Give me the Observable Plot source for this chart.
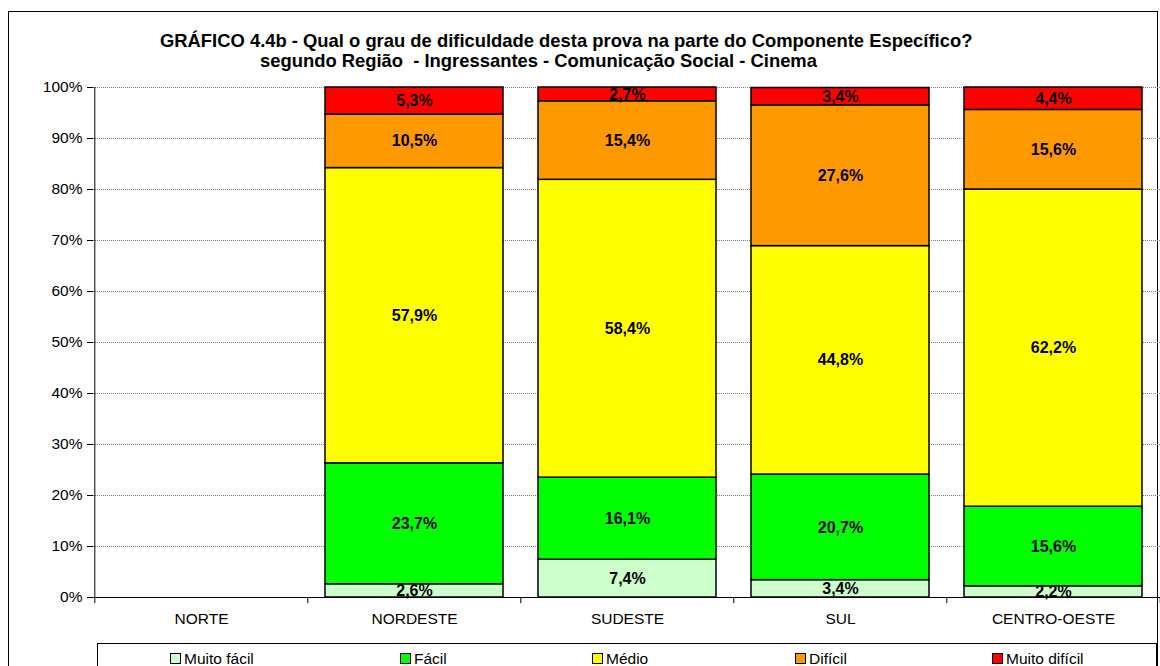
<!DOCTYPE html>
<html><head><meta charset="utf-8">
<script src="https://cdn.jsdelivr.net/npm/d3@7"></script>
<script src="https://cdn.jsdelivr.net/npm/@observablehq/plot@0.6"></script>
<style>
body{margin:0;background:#fff;font-family:"Liberation Sans",Arial,sans-serif;color:#000;}
#wrap{position:relative;width:1160px;height:666px;overflow:hidden;background:#fff;}
#frame{position:absolute;left:8px;top:11px;width:1148px;height:700px;border:1px solid #000;}
.title{position:absolute;font-weight:bold;font-size:18.4px;white-space:pre;line-height:20px;}
#chart{position:absolute;left:0;top:0;}
#legend{position:absolute;left:97px;top:643px;width:1058px;height:40px;border:1px solid #000;}
.item{position:absolute;top:7px;font-size:15.5px;line-height:16px;white-space:pre;}
.sw{display:inline-block;width:9px;height:9px;border:1px solid #000;margin-right:3px;vertical-align:0px;}
</style></head>
<body>
<div id="wrap">
  <div id="frame"></div>
  <div class="title" id="t1" style="left:160px;top:31px;"></div>
  <div class="title" id="t2" style="left:260px;top:51px;"></div>
  <div id="chart"></div>
  <div id="legend"></div>
</div>
<script>
const titleLine1 = "GRÁFICO 4.4b - Qual o grau de dificuldade desta prova na parte do Componente Específico?";
const titleLine2 = "segundo Região  - Ingressantes - Comunicação Social - Cinema";
const regions = ["NORTE", "NORDESTE", "SUDESTE", "SUL", "CENTRO-OESTE"];
const levels = ["Muito fácil", "Fácil", "Médio", "Difícil", "Muito difícil"];
const levelColors = ["#CCFFCC", "#00FF00", "#FFFF00", "#FF9900", "#FF0000"];
const muitoFacil   = [null, 2.6, 7.4, 3.4, 2.2];
const facil        = [null, 23.7, 16.1, 20.7, 15.6];
const medio        = [null, 57.9, 58.4, 44.8, 62.2];
const dificil      = [null, 10.5, 15.4, 27.6, 15.6];
const muitoDificil = [null, 5.3, 2.7, 3.4, 4.4];
const yTicks = [0, 10, 20, 30, 40, 50, 60, 70, 80, 90, 100];

document.getElementById("t1").textContent = titleLine1;
document.getElementById("t2").textContent = titleLine2;

const series = [muitoFacil, facil, medio, dificil, muitoDificil];
const rows = [];
regions.forEach((r, i) => {
  levels.forEach((l, j) => {
    const v = series[j][i];
    if (v != null) rows.push({region: r, level: l, value: v});
  });
});
const fmt = v => v.toFixed(1).replace(".", ",") + "%";

const W = 1160, H = 640, mL = 93, mR = 0, mT = 87, mB = 43;
const step = (W - mL - mR) / regions.length;
const font = '"Liberation Sans", Arial, sans-serif';

const chart = Plot.plot({
  width: W, height: H,
  marginLeft: mL, marginRight: mR, marginTop: mT, marginBottom: mB,
  style: {fontFamily: font, fontSize: "15.5px", color: "#000", background: "transparent", overflow: "visible"},
  x: {domain: regions, paddingInner: 0.166, paddingOuter: 0.083, label: null},
  y: {domain: [0, 100], label: null},
  color: {domain: levels, range: levelColors},
  marks: [
    Plot.gridY(yTicks, {stroke: "#808080", strokeOpacity: 1, strokeDasharray: "1,1"}),
    Plot.barY(rows, {x: "region", y: "value", fill: "level", stroke: "#000", strokeWidth: 1.5}),
    Plot.text(rows, Plot.stackY({x: "region", y: "value", z: "level", text: d => fmt(d.value), fontWeight: "bold", fontSize: 16, fill: "#000"})),
    Plot.axisY(yTicks, {tickFormat: d => d + "%", tickSize: 6, tickPadding: 5, stroke: "#000", fill: "#000"}),
    Plot.axisX({tickSize: 0, tickPadding: 15, fill: "#000"}),
    Plot.ruleY([0], {stroke: "#000"}),
    Plot.ruleX([regions[0]], {x: d => d, y1: 100, y2: -1.2, dx: -step / 2, stroke: "#000"}),
    Plot.ruleX(regions.slice(1), {x: d => d, y1: 0, y2: -1.2, dx: -step / 2, stroke: "#000"}),
    Plot.ruleX([regions[regions.length - 1]], {x: d => d, y1: 0, y2: -1.2, dx: step / 2, stroke: "#000"})
  ]
});
document.getElementById("chart").appendChild(chart);

// legend
const legendX = [72, 302, 494, 697, 894];
const leg = document.getElementById("legend");
levels.forEach((l, i) => {
  const it = document.createElement("div");
  it.className = "item";
  it.style.left = legendX[i] + "px";
  const sw = document.createElement("span");
  sw.className = "sw";
  sw.style.background = levelColors[i];
  it.appendChild(sw);
  it.appendChild(document.createTextNode(l));
  leg.appendChild(it);
});
</script>
</body></html>
